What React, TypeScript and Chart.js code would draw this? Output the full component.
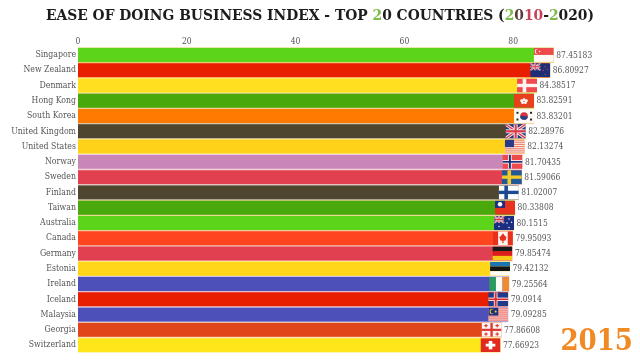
import React, { useEffect, useRef } from "react";
import { Chart, registerables } from "chart.js";

Chart.register(...registerables);

const countries = ["Singapore","New Zealand","Denmark","Hong Kong","South Korea","United Kingdom","United States","Norway","Sweden","Finland","Taiwan","Australia","Canada","Germany","Estonia","Ireland","Iceland","Malaysia","Georgia","Switzerland"];
const values = [87.45183,86.80927,84.38517,83.82591,83.83201,82.28976,82.13274,81.70435,81.59066,81.02007,80.33808,80.1515,79.95093,79.85474,79.42132,79.25564,79.0914,79.09285,77.86608,77.66923];
const barColors = ["#5cd41a","#e81e00","#ffdf20","#48a80c","#ff7a00","#4f4630","#ffd21a","#c987b8","#e04050","#4f4630","#48a80c","#5cd41a","#ff4520","#e04050","#ffd61a","#4c50b8","#e81e00","#4c50b8","#e0461a","#ffe61a"];
const edgeColors = ["#e6dc90","#f0c070","#fff0a0","#d8d090","#f8d090","#c8c0b0","#fff0a0","#ecd0e0","#f4c0c0","#c8c0b0","#d8d090","#e6dc90","#f8c0a0","#f4c0c0","#fff0a0","#c8c0e8","#f0c0c0","#c8c0e8","#f0c0a0","#fff0a0"];
const flagCodes = ["SG","NZ","DK","HK","KR","GB","US","NO","SE","FI","TW","AU","CA","DE","EE","IE","IS","MY","GE","CH"];
const titleParts: [string, string][] = [["EASE OF DOING BUSINESS INDEX - TOP ","#1c1c1c"],["2","#7dbb4a"],["0 COUNTRIES (","#1c1c1c"],["2","#7dbb4a"],["0","#5a3a3a"],["10","#c8405a"],["-","#1c1c1c"],["2","#7dbb4a"],["020)","#1c1c1c"]];
const yearLabel = "2015";

type C = CanvasRenderingContext2D;
const R = (c: C, col: string, x: number, y: number, w: number, h: number) => { c.fillStyle = col; c.fillRect(x, y, w, h); };
const dot = (c: C, col: string, x: number, y: number, rx: number, ry: number) => { c.fillStyle = col; c.beginPath(); c.ellipse(x, y, rx, ry, 0, 0, Math.PI * 2); c.fill(); };

function union(c: C, w: number, h: number) {
  R(c, "#26347e", 0, 0, w, h);
  c.strokeStyle = "#f4e8ec"; c.lineWidth = h * 0.2;
  c.beginPath(); c.moveTo(0, 0); c.lineTo(w, h); c.moveTo(w, 0); c.lineTo(0, h); c.stroke();
  c.strokeStyle = "#d83a4a"; c.lineWidth = h * 0.08;
  c.beginPath(); c.moveTo(0, 0); c.lineTo(w, h); c.moveTo(w, 0); c.lineTo(0, h); c.stroke();
  R(c, "#f4e8ec", 0, h * 0.36, w, h * 0.28); R(c, "#f4e8ec", w * 0.4, 0, w * 0.2, h);
  R(c, "#d83a4a", 0, h * 0.42, w, h * 0.16); R(c, "#d83a4a", w * 0.45, 0, w * 0.1, h);
}
function nordic(c: C, bg: string, outer: string, inner?: string) {
  R(c, bg, 0, 0, 1, 1);
  R(c, outer, 0, 0.38, 1, 0.24); R(c, outer, 0.28, 0, 0.18, 1);
  if (inner) { R(c, inner, 0, 0.44, 1, 0.12); R(c, inner, 0.32, 0, 0.1, 1); }
}
const flags: Record<string, (c: C) => void> = {
  SG: (c) => { R(c, "#ee4a4a", 0, 0, 1, 0.5); R(c, "#fff8f4", 0, 0.5, 1, 0.5); dot(c, "#fff", 0.14, 0.25, 0.09, 0.17); dot(c, "#ee4a4a", 0.18, 0.25, 0.08, 0.15); dot(c, "#fff", 0.3, 0.25, 0.035, 0.05); },
  NZ: (c) => { R(c, "#1e2f78", 0, 0, 1, 1); union(c, 0.5, 0.5); [[0.75,0.25],[0.65,0.5],[0.85,0.45],[0.75,0.8]].forEach(([x,y]) => dot(c, "#e04050", x, y, 0.03, 0.05)); },
  DK: (c) => nordic(c, "#ee4a50", "#fff4f0"),
  HK: (c) => { R(c, "#e8401c", 0, 0, 1, 1); dot(c, "#fff", 0.5, 0.42, 0.07, 0.1); dot(c, "#fff", 0.38, 0.5, 0.07, 0.1); dot(c, "#fff", 0.62, 0.5, 0.07, 0.1); dot(c, "#fff", 0.43, 0.64, 0.07, 0.1); dot(c, "#fff", 0.57, 0.64, 0.07, 0.1); },
  KR: (c) => { R(c, "#fffaf4", 0, 0, 1, 1); dot(c, "#d83040", 0.5, 0.5, 0.19, 0.27); c.fillStyle = "#24408c"; c.beginPath(); c.ellipse(0.5, 0.5, 0.19, 0.27, 0, 0.1, Math.PI + 0.1); c.fill(); [[0.12,0.2],[0.8,0.2],[0.12,0.68],[0.8,0.68]].forEach(([x,y]) => R(c, "#222", x, y, 0.1, 0.14)); },
  GB: (c) => union(c, 1, 1),
  US: (c) => { R(c, "#fbe6dc", 0, 0, 1, 1); for (let i = 0; i < 7; i++) R(c, "#ee8070", 0, i * 0.1538, 1, 0.077); R(c, "#2a3a86", 0, 0, 0.46, 0.54); },
  NO: (c) => nordic(c, "#ee4a4a", "#fff", "#1e2f78"),
  SE: (c) => nordic(c, "#1f5a96", "#f2c82a"),
  FI: (c) => nordic(c, "#fbfcfc", "#1c4a92"),
  TW: (c) => { R(c, "#e8341e", 0, 0, 1, 1); R(c, "#1c2e82", 0, 0, 0.5, 0.52); dot(c, "#fff", 0.25, 0.26, 0.11, 0.16); },
  AU: (c) => { R(c, "#1c2e82", 0, 0, 1, 1); union(c, 0.5, 0.5); [[0.25,0.76],[0.75,0.22],[0.65,0.5],[0.88,0.45],[0.75,0.82]].forEach(([x,y]) => dot(c, "#fff", x, y, 0.035, 0.055)); },
  CA: (c) => { R(c, "#fff6f2", 0, 0, 1, 1); R(c, "#e8301e", 0, 0, 0.26, 1); R(c, "#e8301e", 0.74, 0, 0.26, 1); c.fillStyle = "#e8301e"; c.beginPath(); c.moveTo(0.5, 0.14); c.lineTo(0.6, 0.34); c.lineTo(0.68, 0.42); c.lineTo(0.63, 0.66); c.lineTo(0.53, 0.68); c.lineTo(0.53, 0.86); c.lineTo(0.47, 0.86); c.lineTo(0.47, 0.68); c.lineTo(0.37, 0.66); c.lineTo(0.32, 0.42); c.lineTo(0.4, 0.34); c.closePath(); c.fill(); },
  DE: (c) => { R(c, "#1a1a1a", 0, 0, 1, 0.34); R(c, "#dc1c18", 0, 0.34, 1, 0.33); R(c, "#f8c818", 0, 0.67, 1, 0.33); },
  EE: (c) => { R(c, "#1c74b4", 0, 0, 1, 0.34); R(c, "#141414", 0, 0.34, 1, 0.33); R(c, "#fbfaf4", 0, 0.67, 1, 0.33); },
  IE: (c) => { R(c, "#2a9a60", 0, 0, 0.34, 1); R(c, "#fbfaf4", 0.34, 0, 0.33, 1); R(c, "#f28a30", 0.67, 0, 0.33, 1); },
  IS: (c) => nordic(c, "#1e3a88", "#fff", "#dc2a30"),
  MY: (c) => { R(c, "#fbe6e0", 0, 0, 1, 1); for (let i = 0; i < 7; i++) R(c, "#e85a5a", 0, i * 0.1428, 1, 0.071); R(c, "#1e2f80", 0, 0, 0.5, 0.57); dot(c, "#f6d020", 0.18, 0.28, 0.11, 0.19); dot(c, "#1e2f80", 0.22, 0.28, 0.1, 0.16); dot(c, "#f6d020", 0.37, 0.28, 0.05, 0.08); },
  GE: (c) => { R(c, "#fff8f4", 0, 0, 1, 1); R(c, "#e03a36", 0, 0.42, 1, 0.16); R(c, "#e03a36", 0.44, 0, 0.12, 1); [[0.22,0.2],[0.78,0.2],[0.22,0.8],[0.78,0.8]].forEach(([x,y]) => { R(c, "#e03a36", x - 0.09, y - 0.04, 0.18, 0.08); R(c, "#e03a36", x - 0.03, y - 0.12, 0.06, 0.24); }); },
  CH: (c) => { R(c, "#e02a20", 0, 0, 1, 1); R(c, "#fff", 0.26, 0.4, 0.48, 0.2); R(c, "#fff", 0.41, 0.2, 0.18, 0.6); },
};

const FLAG_W = 20;
const FLAG_H = 14;
const serif = "'DejaVu Serif Condensed', 'DejaVu Serif', serif";

const barExtras = {
  id: "barExtras",
  afterDatasetsDraw(chart: Chart) {
    const c = chart.ctx;
    chart.getDatasetMeta(0).data.forEach((bar: any, i: number) => {
      c.save();
      c.translate(bar.x - FLAG_W, bar.y - FLAG_H / 2);
      c.scale(FLAG_W, FLAG_H);
      c.beginPath(); c.rect(0, 0, 1, 1); c.clip();
      flags[flagCodes[i]](c);
      c.restore();
      c.save();
      c.fillStyle = "#555";
      c.font = `8.4px ${serif}`;
      c.textAlign = "left";
      c.textBaseline = "middle";
      c.fillText(String(values[i]), bar.x + 2.5, bar.y + 0.5);
      c.restore();
    });
  },
};

export default function App() {
  const ref = useRef<HTMLCanvasElement>(null);
  useEffect(() => {
    document.body.style.margin = "0";
    document.body.style.background = "#fff";
    const chart = new Chart(ref.current!, {
      type: "bar",
      data: {
        labels: countries,
        datasets: [{ data: values, backgroundColor: barColors, borderColor: edgeColors, borderWidth: 1, barPercentage: 1, categoryPercentage: 1 }],
      },
      options: {
        indexAxis: "y",
        animation: false,
        responsive: false,
        layout: { padding: { top: 20, right: 83.28, bottom: 6.3, left: 0 } },
        plugins: { legend: { display: false }, tooltip: { enabled: false } },
        scales: {
          x: {
            position: "top", min: 0, max: 88,
            border: { display: false }, grid: { display: false, drawTicks: false },
            ticks: { stepSize: 20, includeBounds: false, maxRotation: 0, padding: 0, color: "#555", font: { family: serif, size: 8.5 } },
            afterFit: (s: any) => { s.height = 27.3; },
          },
          y: {
            border: { display: false }, grid: { display: false, drawTicks: false },
            ticks: { autoSkip: false, padding: 2, color: "#555", font: { family: serif, size: 8.7 } },
            afterFit: (s: any) => { s.width = 78; },
          },
        },
      },
      plugins: [barExtras],
    } as any);
    return () => chart.destroy();
  }, []);
  return (
    <div style={{ position: "relative", width: 640, height: 360, overflow: "hidden", background: "#fff" }}>
      <canvas ref={ref} width={640} height={360} style={{ display: "block" }} />
      <div style={{ position: "absolute", left: 0, top: 5, width: 640, textAlign: "center", fontFamily: serif, fontWeight: 700, fontSize: 15.4, lineHeight: "20px", whiteSpace: "nowrap" }}>
        {titleParts.map(([t, col], i) => <span key={i} style={{ color: col }}>{t}</span>)}
      </div>
      <div style={{ position: "absolute", right: 7, top: 321, fontFamily: serif, fontWeight: 700, fontSize: 29, lineHeight: "38px", color: "#f08a24" }}>{yearLabel}</div>
    </div>
  );
}
